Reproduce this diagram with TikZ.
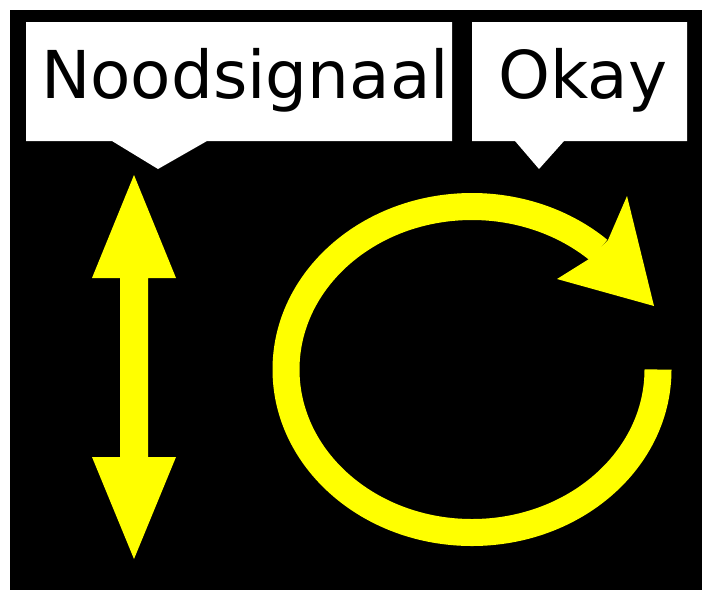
\documentclass[tikz,border=0pt]{standalone}
\usepackage{fontspec}
\setmainfont{DejaVu Sans}
\definecolor{signyellow}{RGB}{255,255,0}
\tikzset{every picture/.style={line width=0.75pt}}
\tikzset{signtext/.style={anchor=base west, inner sep=0pt, font=\fontsize{49.5}{50}\selectfont}}

\begin{document}
\begin{tikzpicture}[x=0.75pt,y=0.75pt,yscale=-1,xscale=1]
\useasboundingbox (0,0) rectangle (712,590);

%Shape: Rectangle [background]
\fill [black] (10,10) rectangle (702,590);
%Shape: Callout [Noodsignaal]
\fill [white] (26,22) -- (452,22) -- (452,141) -- (207,141) -- (158,169) -- (112,141) -- (26,141) -- cycle ;
%Shape: Callout [Okay]
\fill [white] (472,22) -- (687,22) -- (687,141) -- (564,141) -- (539,169) -- (515,141) -- (472,141) -- cycle ;
%Shape: Double arrow
\fill [signyellow] (134,175) -- (176,278) -- (148,278) -- (148,457) -- (176,457) -- (134,559) -- (92,457) -- (120,457) -- (120,278) -- (92,278) -- cycle ;
%Shape: Arc
\draw [signyellow, line width=20.25pt] (658,369.5) arc [start angle=0, end angle=313, x radius=186, y radius=163] ;
%Shape: Arrow head
\fill [signyellow] (654,306) -- (627,196) -- (608,240) -- (589,259) -- (557,279) -- cycle ;

% Text Node
\node [signtext] (nood) at (40.5,98) {Noodsignaal};
% Text Node
\node [signtext] (okay) at (498,98) {Okay};

\end{tikzpicture}
\end{document}
